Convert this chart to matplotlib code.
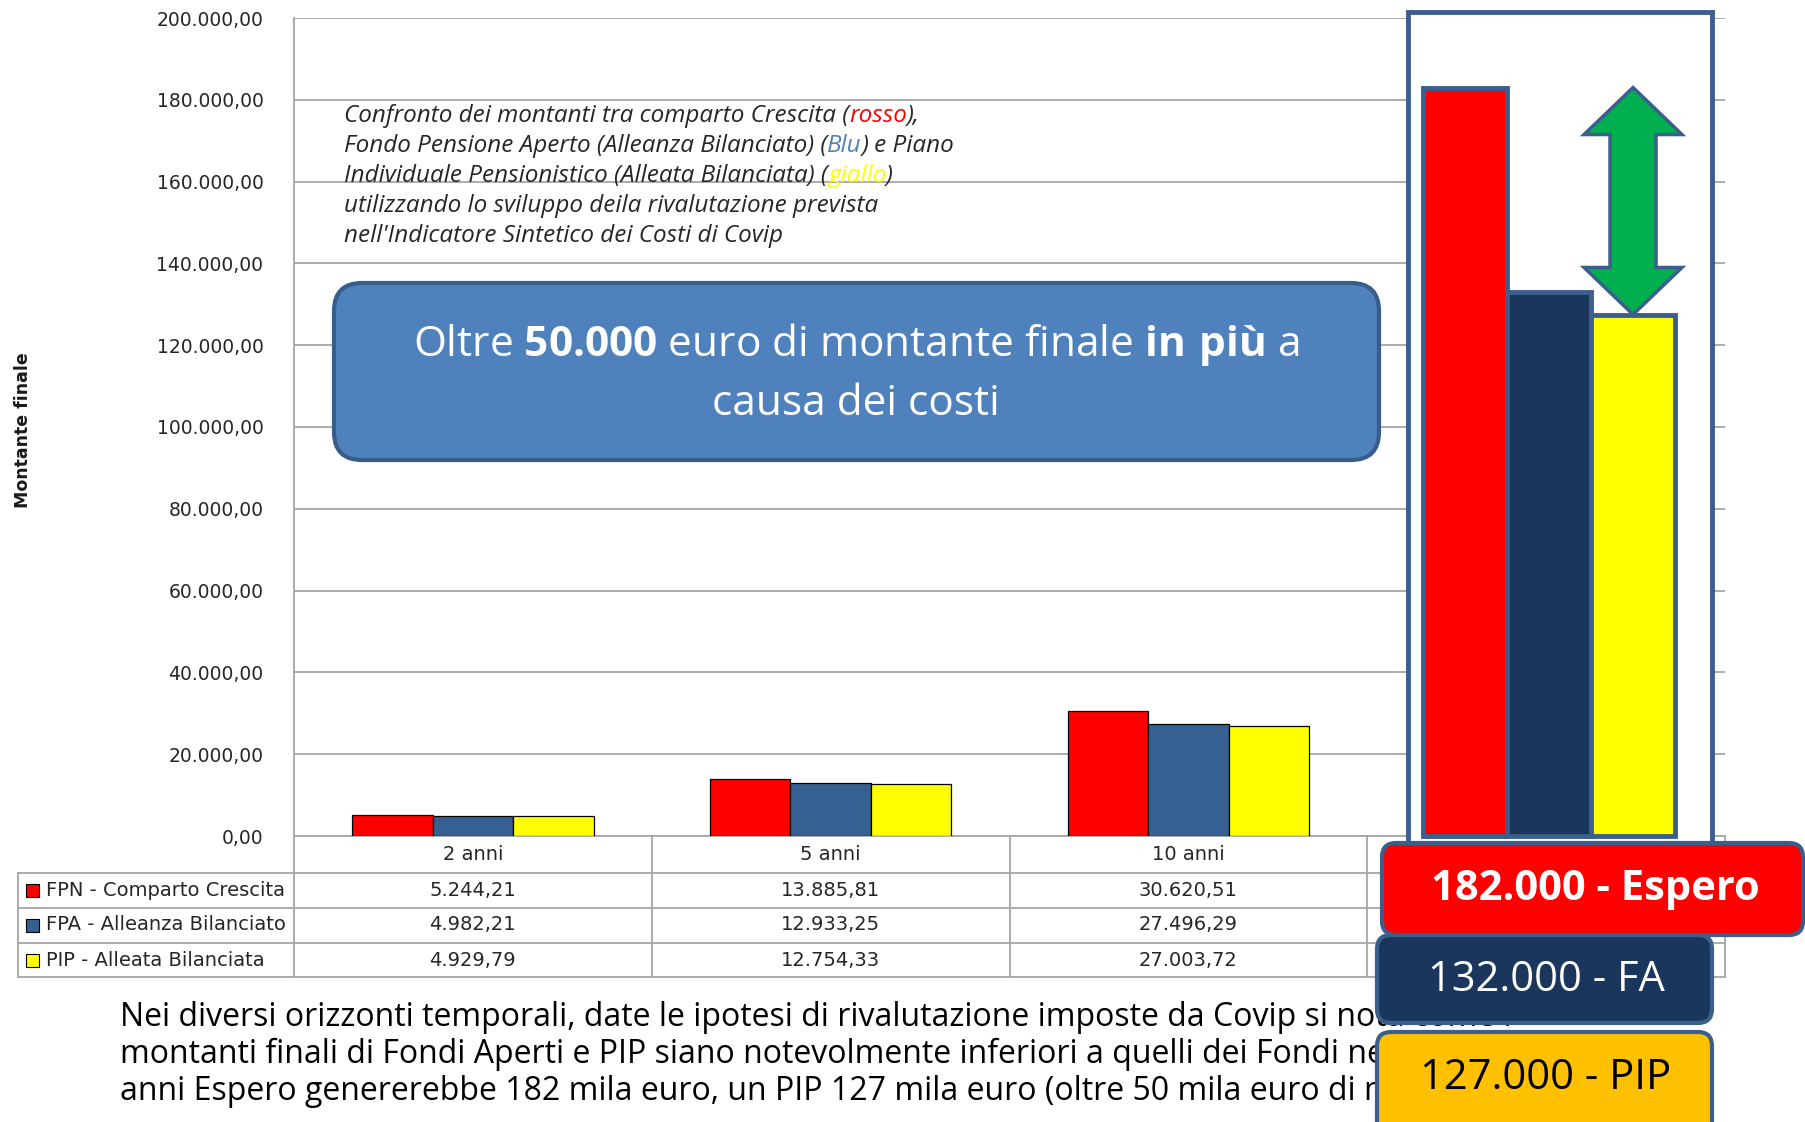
import numpy as np
import matplotlib
matplotlib.use('Agg')
import matplotlib.pyplot as plt
from matplotlib.patches import Rectangle, FancyBboxPatch, Polygon
from matplotlib.lines import Line2D
from matplotlib.transforms import Affine2D, Bbox, TransformedBbox, blended_transform_factory
from matplotlib.ticker import FuncFormatter

# --- data ---
categories = ['2 anni', '5 anni', '10 anni', '35 anni']
fpn = [5244.21, 13885.81, 30620.51, 183000]
fpa = [4982.21, 12933.25, 27496.29, 133000]
pip = [4929.79, 12754.33, 27003.72, 127500]
series_names = ['FPN - Comparto Crescita', 'FPA - Alleanza Bilanciato', 'PIP - Alleata Bilanciata']
box_labels = ['182.000 - Espero', '132.000 - FA', '127.000 - PIP']
yticks = list(range(0, 200001, 20000))

colors = ['#FF0000', '#376092', '#FFFF00']
zoom_colors = ['#FF0000', '#1B365D', '#FFFF00']
edge_blue = '#3B5E8C'

plt.rcParams['mathtext.fontset'] = 'custom'
plt.rcParams['mathtext.rm'] = 'Open Sans'
plt.rcParams['mathtext.bf'] = 'Open Sans:bold'


def it_num(v, pos=None):
    return f"{v:,.2f}".replace(',', 'X').replace('.', ',').replace('X', '.')


W, H, DPI = 1805, 1122, 100
fig = plt.figure(figsize=(W / DPI, H / DPI), dpi=DPI)
# pixel coordinates, origin top-left
px = Affine2D().scale(1 / DPI, -1 / DPI).translate(0, H / DPI) + fig.dpi_scale_trans

# --- main bar chart ---
ax = fig.add_axes([294 / W, 1 - 836 / H, (1725 - 294) / W, (836 - 18) / H])
x = np.arange(3)
bw = 0.225
for k, vals in enumerate([fpn, fpa, pip]):
    ax.bar(x + (k - 1) * bw, vals[:3], bw, color=colors[k], edgecolor='black', linewidth=0.9, zorder=3)

ax.set_xlim(-0.5, 3.5)
ax.set_ylim(0, 200000)
ax.set_yticks(yticks)
ax.yaxis.set_major_formatter(FuncFormatter(it_num))
ax.set_xticks([])
ax.yaxis.grid(True, color='#A6A6A6', linewidth=1.3)
ax.set_axisbelow(True)
for s in ['top', 'right']:
    ax.spines[s].set_visible(False)
for s in ['left', 'bottom']:
    ax.spines[s].set_color('#A6A6A6')
    ax.spines[s].set_linewidth(1.3)
ax.tick_params(axis='y', length=0, pad=22, labelsize=13.5, labelcolor='#262626')

fig.text(23, 430, 'Montante finale', transform=px, rotation=90, fontweight='bold',
         fontsize=12.5, ha='center', va='center', color='#1a1a1a')

# --- data table under the chart (last column is covered by the value boxes) ---
bt = blended_transform_factory(ax.transData, px)
grid_c = '#A6A6A6'
for yy in [873, 908, 943, 977]:
    fig.add_artist(Line2D([18, 1725], [yy, yy], transform=px, color=grid_c, lw=1.3, zorder=1))
fig.add_artist(Line2D([18, 18], [873, 977], transform=px, color=grid_c, lw=1.3, zorder=1))
for b in np.arange(len(categories) + 1) - 0.5:
    fig.add_artist(Line2D([b, b], [836, 977], transform=bt, color=grid_c, lw=1.3, zorder=1))

for i, c in enumerate(categories[:3]):
    fig.text(i, 855, c, transform=bt, ha='center', va='center', fontsize=14, color='#262626', zorder=1.2)

row_y = [890, 925, 960]
for k, (name, vals) in enumerate(zip(series_names, [fpn, fpa, pip])):
    yc = row_y[k]
    fig.add_artist(Rectangle((26, yc - 6.5), 13, 13, transform=px, facecolor=colors[k],
                             edgecolor='black', linewidth=0.8, zorder=1.2))
    fig.text(46, yc, name, transform=px, ha='left', va='center', fontsize=14, color='#262626', zorder=1.2)
    for i, v in enumerate(vals[:3]):
        fig.text(i, yc, it_num(v), transform=bt, ha='center', va='center', fontsize=14,
                 color='#262626', zorder=1.2)

# --- italic note with coloured words ---
note = [
    [('Confronto dei montanti tra comparto Crescita (', '#262626'), ('rosso', '#FF0000'), ('),', '#262626')],
    [('Fondo Pensione Aperto (Alleanza Bilanciato) (', '#262626'), ('Blu', '#4F81BD'), (') e Piano', '#262626')],
    [('Individuale Pensionistico (Alleata Bilanciata) (', '#262626'), ('giallo', '#FFFF00'), (')', '#262626')],
    [('utilizzando lo sviluppo deila rivalutazione prevista', '#262626')],
    [("nell'Indicatore Sintetico dei Costi di Covip", '#262626')],
]
for j, parts in enumerate(note):
    prev = None
    for s, col in parts:
        if prev is None:
            prev = ax.text(344, 116 + 30 * j, s, transform=px, ha='left', va='center', fontsize=17.5,
                           style='italic', family='Open Sans', color=col)
        else:
            prev = ax.annotate(s, xy=(1, 0), xycoords=prev, ha='left', va='bottom', fontsize=17.5,
                               style='italic', family='Open Sans', color=col)

# --- callout box ---
fig.add_artist(FancyBboxPatch((334, 283), 1045, 177, boxstyle='round,pad=0,rounding_size=28',
                              transform=px, facecolor='#4F81BD', edgecolor='#385D8A', linewidth=3, zorder=1.5))
fig.text(856, 345, r'Oltre $\mathbf{50.000}$ euro di montante finale $\mathbf{in\ più}$ a', transform=px,
         ha='center', va='center', fontsize=30.5, family='Open Sans', color='white', zorder=1.6)
fig.text(856, 404, 'causa dei costi', transform=px, ha='center', va='center', fontsize=30.5,
         family='Open Sans', color='white', zorder=1.6)

# --- zoomed view of the last horizon ---
fig.add_artist(Rectangle((1408, 12), 304, 850, transform=px, facecolor='white',
                         edgecolor=edge_blue, linewidth=3.5, zorder=0.5))
axz = fig.add_axes([1408 / W, 1 - 836 / H, 304 / W, 818 / H])
axz.set_zorder(1)
axz.set_xlim(-0.679, 2.94)
axz.set_ylim(0, 200000)
axz.axis('off')
last = [fpn[-1], fpa[-1], pip[-1]]
axz.bar(np.arange(3), last, 1.0, color=zoom_colors, edgecolor=edge_blue, linewidth=3.5, clip_on=False)

xc, top, bot = 2, last[0], last[2]
hw, sw, hl = 0.583, 0.274, 11500
arrow = [(xc, top), (xc + hw, top - hl), (xc + sw, top - hl), (xc + sw, bot + hl), (xc + hw, bot + hl),
         (xc, bot), (xc - hw, bot + hl), (xc - sw, bot + hl), (xc - sw, top - hl), (xc - hw, top - hl)]
axz.add_patch(Polygon(arrow, closed=True, facecolor='#00B050', edgecolor=edge_blue, linewidth=2.5,
                      clip_on=False, zorder=4))

# --- bottom paragraph (its end runs under the value boxes) ---
clip = TransformedBbox(Bbox([[0, 0], [1712, H]]), px)
para = [
    'Nei diversi orizzonti temporali, date le ipotesi di rivalutazione imposte da Covip si nota come i',
    'montanti finali di Fondi Aperti e PIP siano notevolmente inferiori a quelli dei Fondi negoziali: a 35',
    'anni Espero genererebbe 182 mila euro, un PIP 127 mila euro (oltre 50 mila euro di meno).',
]
for j, line in enumerate(para):
    t = fig.text(120, 1017 + 37 * j, line, transform=px, ha='left', va='center', fontsize=23,
                 family='Open Sans', color='black', zorder=1.8)
    t.set_clip_box(clip)
    t.set_clip_on(True)

# --- value boxes ---
boxes = [
    ((1382, 843), 421, 92, '#FF0000', 'white', 'bold', (1595, 890)),
    ((1377, 935), 335, 88, '#1B365D', 'white', 'normal', (1546, 980)),
    ((1377, 1032), 335, 110, '#FFC000', 'black', 'normal', (1546, 1078)),
]
for k, (xy, w, h, fc, tc, fw, tpos) in enumerate(boxes):
    fig.add_artist(FancyBboxPatch(xy, w, h, boxstyle='round,pad=0,rounding_size=14', transform=px,
                                  facecolor=fc, edgecolor=edge_blue, linewidth=3, zorder=2 + k * 0.1))
    fig.text(tpos[0], tpos[1], box_labels[k], transform=px, ha='center', va='center', fontsize=30,
             fontweight=fw, family='Open Sans', color=tc, zorder=2.05 + k * 0.1)

fig.savefig('out.png', dpi=DPI)
